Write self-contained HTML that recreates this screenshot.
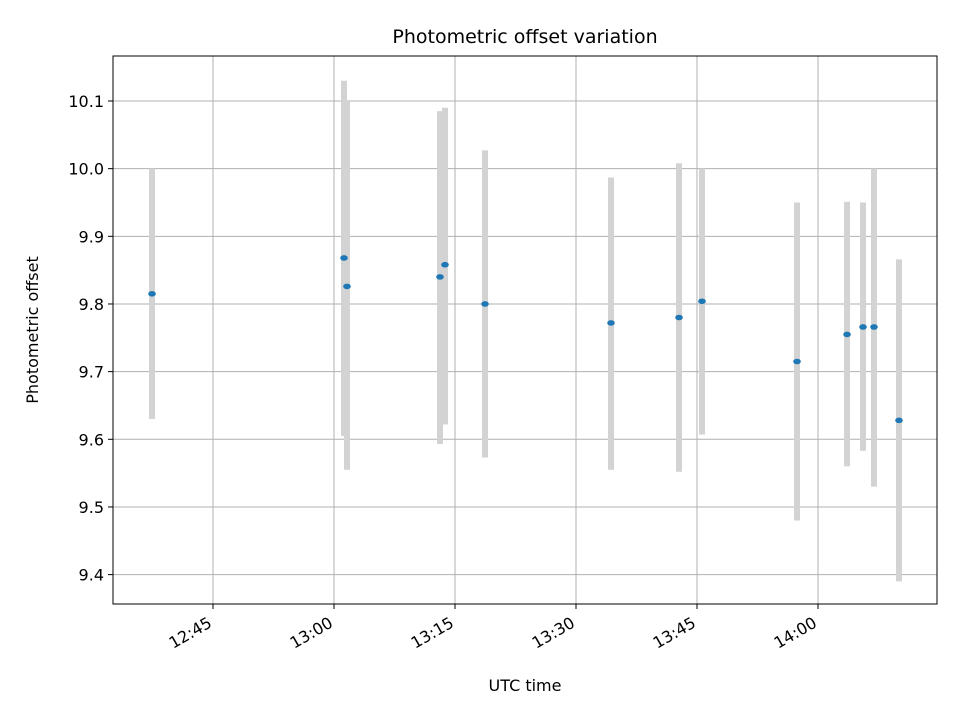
<!DOCTYPE html>
<html><head><meta charset="utf-8"><style>
body{margin:0;background:#fff;font-family:"Liberation Sans","DejaVu Sans",sans-serif}
</style></head><body>
<svg id="chart" width="960" height="720" xmlns="http://www.w3.org/2000/svg" font-family="DejaVu Sans, Liberation Sans, sans-serif"></svg>
<script>
const timesMin=[37.44,61.24,61.61,73.14,73.76,78.72,94.34,102.77,105.62,117.40,123.60,125.58,126.94,130.04];
const offsets=[9.815,9.868,9.826,9.840,9.858,9.800,9.772,9.780,9.804,9.715,9.755,9.766,9.766,9.628];
const errLow=[9.630,9.605,9.555,9.593,9.622,9.573,9.555,9.552,9.607,9.480,9.560,9.583,9.530,9.390];
const errHigh=[10.000,10.130,10.100,10.085,10.090,10.027,9.987,10.008,10.000,9.950,9.951,9.950,10.000,9.866];
const yTicks=[9.4,9.5,9.6,9.7,9.8,9.9,10.0,10.1];
const xTicksMin=[45,60,75,90,105,120];
const xTickLabels=["12:45","13:00","13:15","13:30","13:45","14:00"];
const L=113,R=937,T=56,B=604;
const xs=m=>213+(m-45)*121/15;
const ys=v=>101+(10.1-v)*676.6;
const svg=document.getElementById('chart');
const NS='http://www.w3.org/2000/svg';
function mk(tag,attrs,parent){const e=document.createElementNS(NS,tag);for(const k in attrs)e.setAttribute(k,attrs[k]);(parent||svg).appendChild(e);return e;}
const grid=mk('g',{});


xTicksMin.forEach((m,i)=>{const x=xs(m);
 mk('line',{x1:x,x2:x,y1:T,y2:B,stroke:'#b0b0b0','stroke-width':1},grid);
 mk('line',{x1:x,x2:x,y1:B,y2:B+5,stroke:'#000'});
 const t=mk('text',{x:x,y:B+22,'font-size':16,'text-anchor':'end',transform:`rotate(-30 ${x} ${B+22})`});
 
 
 t.textContent=xTickLabels[i];});
yTicks.forEach(v=>{const y=ys(v);
 mk('line',{x1:L,x2:R,y1:y,y2:y,stroke:'#b0b0b0','stroke-width':1},grid);
 mk('line',{x1:L-5,x2:L,y1:y,y2:y,stroke:'#000'});
 const t=mk('text',{x:L-9,y:y+6,'font-size':16,'text-anchor':'end'});
 
 
 t.textContent=v.toFixed(1);});
timesMin.forEach((m,i)=>{const x=xs(m);
 const b=mk('rect',{x:x-3,y:ys(errHigh[i]),width:6,height:ys(errLow[i])-ys(errHigh[i]),fill:'#d3d3d3'});
 
 });
timesMin.forEach((m,i)=>{
 const p=mk('ellipse',{cx:xs(m),cy:ys(offsets[i]),rx:3.8,ry:2.8,fill:'#1f77b4'});
 
 });
const fr=mk('rect',{x:L,y:T,width:R-L,height:B-T,fill:'none',stroke:'#000','stroke-width':1});


const ti=mk('text',{x:525,y:43,'font-size':19,'text-anchor':'middle'});ti.textContent='Photometric offset variation';


const xl=mk('text',{x:525,y:691,'font-size':16,'text-anchor':'middle'});xl.textContent='UTC time';


const yl=mk('text',{x:38,y:330,'font-size':16,'text-anchor':'middle',transform:'rotate(-90 38 330)'});yl.textContent='Photometric offset';


</script>
</body></html>
